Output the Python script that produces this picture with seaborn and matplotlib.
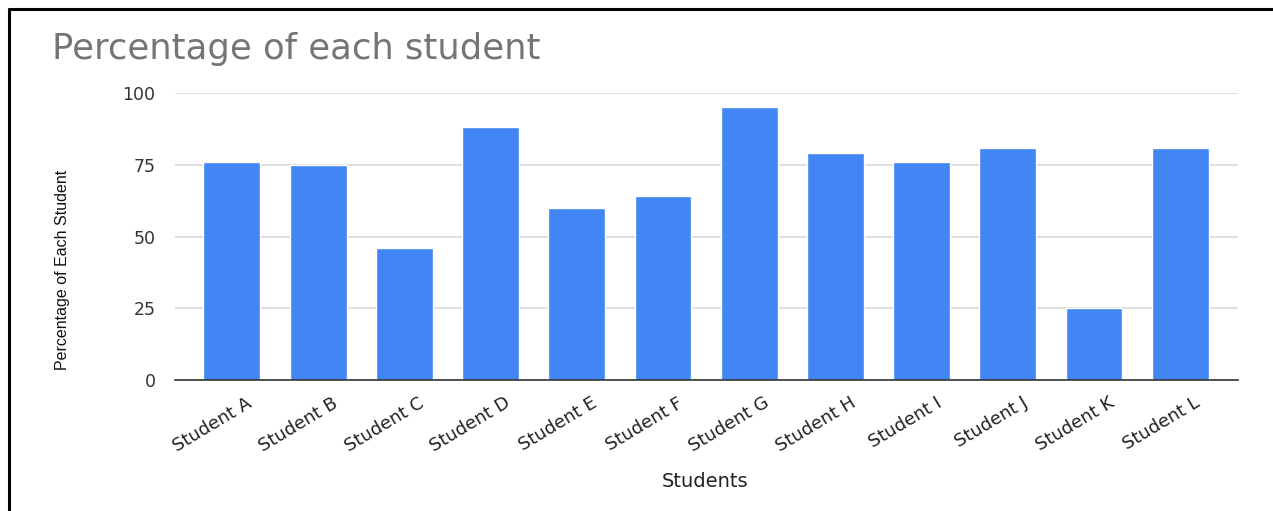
import matplotlib
matplotlib.use("Agg")
import matplotlib.pyplot as plt
import matplotlib.transforms as mtransforms
import seaborn as sns
import pandas as pd
from matplotlib.lines import Line2D

students = ["Student A", "Student B", "Student C", "Student D", "Student E", "Student F",
            "Student G", "Student H", "Student I", "Student J", "Student K", "Student L"]
percentages = [76, 75, 46, 88, 60, 64, 95, 79, 76, 81, 25, 81]
yticks = [0, 25, 50, 75, 100]

sns.set_theme(style="white")
plt.rcParams['font.family'] = ['DejaVu Sans']

W, H = 1273, 511
fig = plt.figure(figsize=(W / 100, H / 100), dpi=100)
fig.patch.set_facecolor("white")
ax = fig.add_axes([175 / W, 1 - 380 / H, (1238 - 175) / W, (380 - 93) / H])

df = pd.DataFrame({"Student": students, "Percentage": percentages})
sns.barplot(data=df, x="Student", y="Percentage", color="#4285f4", saturation=1,
            width=0.66, ax=ax, zorder=3)

ax.set_xlim(-0.66, 11.67)
ax.set_ylim(0, 100)
ax.set_yticks(yticks)
ax.set_yticklabels([str(v) for v in yticks], fontsize=12.5, color="#333333")
ax.yaxis.grid(True, color="#d9d9d9", linewidth=1.2, zorder=0)
ax.set_axisbelow(True)
for s in ["top", "right", "left"]:
    ax.spines[s].set_visible(False)
ax.spines["bottom"].set_color("#333333")
ax.spines["bottom"].set_linewidth(1.2)
ax.spines["bottom"].set_zorder(4)
ax.tick_params(axis="both", length=0)
ax.tick_params(axis="y", pad=14)

ax.set_xticks(range(len(students)))
ax.set_xticklabels(students, rotation=31, ha="right", rotation_mode="anchor",
                   fontsize=13, color="#222222")
ax.tick_params(axis="x", pad=10)
offset = mtransforms.ScaledTranslation(14 / 100, 0, fig.dpi_scale_trans)
for lab in ax.get_xticklabels():
    lab.set_transform(lab.get_transform() + offset)

ax.set_xlabel("Students", fontsize=14, color="#222222")
ax.xaxis.set_label_coords((705 - 175) / (1238 - 175), -(472 - 380) / (380 - 93))
ax.set_ylabel("Percentage of Each Student", fontsize=11.5, color="#111111",
              family=['Liberation Sans Narrow', 'Liberation Sans', 'DejaVu Sans'])
ax.yaxis.set_label_coords(-(175 - 70) / (1238 - 175), (380 - 270) / (380 - 93))

fig.text(52 / W, 1 - 59 / H, "Percentage of each student", fontsize=25.5, color="#757575",
         va="baseline", ha="left")

# frame lines (top and left)
fig.add_artist(Line2D([9 / W, 1.0], [1 - 9.5 / H, 1 - 9.5 / H], color="black", linewidth=2.2,
                      transform=fig.transFigure))
fig.add_artist(Line2D([9 / W, 9 / W], [0, 1 - 9.5 / H], color="black", linewidth=2.2,
                      transform=fig.transFigure))

fig.savefig("out.png", dpi=100, facecolor="white")
